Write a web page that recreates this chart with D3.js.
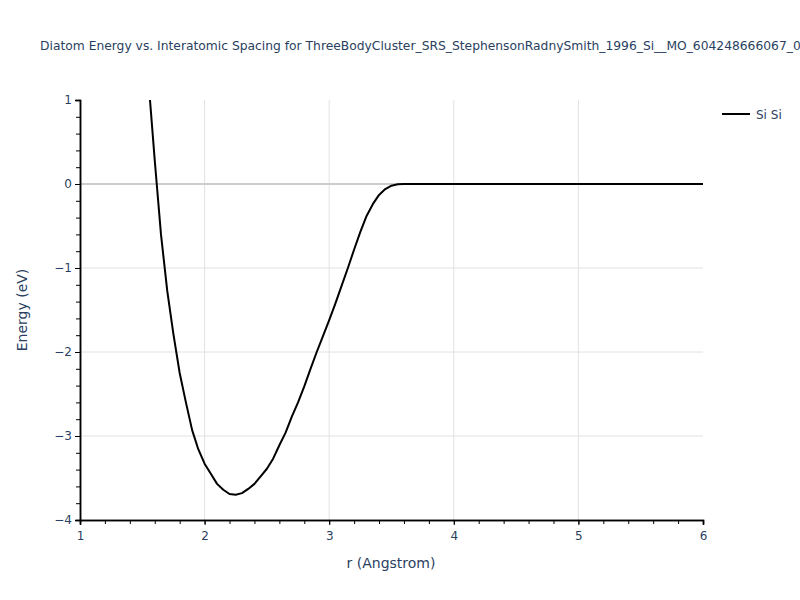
<!DOCTYPE html>
<html>
<head>
<meta charset="utf-8">
<script src="https://cdn.jsdelivr.net/npm/d3@7"></script>
<style>
  body { margin: 0; background: #fff; }
  text { font-family: "DejaVu Sans", verdana, arial, sans-serif; fill: #2a3f5f; }
</style>
</head>
<body>
<svg id="chart" width="800" height="600"></svg>
<script>
// interatomic spacing (Angstrom) and diatom energy (eV)
const rValues = [1.50, 1.55, 1.60, 1.65, 1.70, 1.75, 1.80, 1.85, 1.90, 1.95,
  2.00, 2.05, 2.10, 2.15, 2.20, 2.25, 2.30, 2.35, 2.40, 2.45,
  2.50, 2.55, 2.60, 2.65, 2.70, 2.75, 2.80, 2.85, 2.90, 2.95,
  3.00, 3.05, 3.10, 3.15, 3.20, 3.25, 3.30, 3.35, 3.40, 3.45,
  3.50, 3.55, 3.60, 4.00, 5.00, 6.00];
const energyValues = [2.30, 1.22, 0.28, -0.60, -1.27, -1.79, -2.25, -2.60, -2.93, -3.16,
  -3.33, -3.45, -3.57, -3.64, -3.69, -3.70, -3.68, -3.63, -3.57, -3.48,
  -3.39, -3.27, -3.11, -2.96, -2.77, -2.60, -2.41, -2.20, -2.00, -1.81,
  -1.62, -1.42, -1.21, -1.00, -0.78, -0.57, -0.38, -0.24, -0.13, -0.06,
  -0.02, -0.004, 0, 0, 0, 0];
const seriesName = "Si Si";
const xTicks = [1, 2, 3, 4, 5, 6];
const yTicks = [1, 0, -1, -2, -3, -4];
const titleText = "Diatom Energy vs. Interatomic Spacing for ThreeBodyCluster_SRS_StephensonRadnySmith_1996_Si__MO_604248666067_005";

const svg = d3.select("#chart");
const margin = { top: 100, right: 97, bottom: 80, left: 80 };
const width = 800 - margin.left - margin.right;
const height = 600 - margin.top - margin.bottom;

const x = d3.scaleLinear().domain([1, 6]).range([0, width]);
const y = d3.scaleLinear().domain([-4, 1]).range([height, 0]);

svg.append("text")
  .attr("x", 40).attr("y", 50)
  .style("font-size", "12.3px")
  .text(titleText);

svg.append("defs").append("clipPath").attr("id", "clip")
  .append("rect").attr("width", width).attr("height", height);

const g = svg.append("g")
  .attr("transform", "translate(" + margin.left + "," + margin.top + ")");

// grid lines
g.append("g").selectAll("line")
  .data(xTicks.filter(d => d > 1 && d < 6))
  .enter().append("line")
  .attr("x1", d => x(d)).attr("x2", d => x(d))
  .attr("y1", 0).attr("y2", height)
  .attr("stroke", "#e2e2e2").attr("stroke-width", 1);

g.append("g").selectAll("line")
  .data(yTicks.filter(d => d > -4 && d < 1 && d !== 0))
  .enter().append("line")
  .attr("x1", 0).attr("x2", width)
  .attr("y1", d => y(d)).attr("y2", d => y(d))
  .attr("stroke", "#e2e2e2").attr("stroke-width", 1);

// zero line
g.append("line")
  .attr("x1", 0).attr("x2", width)
  .attr("y1", y(0)).attr("y2", y(0))
  .attr("stroke", "#cccccc").attr("stroke-width", 2);

// curve
const line = d3.line()
  .x((d, i) => x(rValues[i]))
  .y(d => y(d));

g.append("path")
  .datum(energyValues)
  .attr("clip-path", "url(#clip)")
  .attr("fill", "none")
  .attr("stroke", "#000")
  .attr("stroke-width", 2)
  .attr("stroke-linejoin", "round")
  .attr("d", line);

// axes with minor ticks
const xMinor = d3.range(1, 6.001, 0.2);
const yMinor = d3.range(-4, 1.001, 0.2);

const xAxisG = g.append("g").attr("transform", "translate(0," + height + ")");
xAxisG.call(d3.axisBottom(x).tickValues(xMinor).tickSize(4).tickFormat(""));
const xMajor = g.append("g").attr("transform", "translate(0," + height + ")")
  .call(d3.axisBottom(x).tickValues(xTicks).tickSize(5).tickPadding(6).tickFormat(d3.format("d")));

const yAxisG = g.append("g");
yAxisG.call(d3.axisLeft(y).tickValues(yMinor).tickSize(4).tickFormat(""));
const yMajor = g.append("g")
  .call(d3.axisLeft(y).tickValues(yTicks).tickSize(5).tickPadding(3)
    .tickFormat(d => d < 0 ? "\u2212" + Math.abs(d) : d));

[xAxisG, xMajor, yAxisG, yMajor].forEach(a => {
  a.select(".domain").attr("stroke", "#000").attr("stroke-width", 1.5);
  a.selectAll(".tick line").attr("stroke", "#000");
  a.selectAll(".tick text").style("font-size", "12px").attr("fill", "#2a3f5f")
    .style("font-family", "\"DejaVu Sans\", verdana, arial, sans-serif");
});

// axis titles
svg.append("text")
  .attr("x", 391).attr("y", 568)
  .attr("text-anchor", "middle")
  .style("font-size", "14px")
  .text("r (Angstrom)");

svg.append("text")
  .attr("transform", "translate(27," + (margin.top + height / 2) + ") rotate(-90)")
  .attr("text-anchor", "middle")
  .style("font-size", "14px")
  .text("Energy (eV)");

// legend
const legend = svg.append("g").attr("transform", "translate(722,114)");
legend.append("line")
  .attr("x1", 0).attr("x2", 28).attr("y1", 0).attr("y2", 0)
  .attr("stroke", "#000").attr("stroke-width", 2);
legend.append("text")
  .attr("x", 34).attr("y", 5)
  .style("font-size", "12px")
  .text(seriesName);
</script>
</body>
</html>
